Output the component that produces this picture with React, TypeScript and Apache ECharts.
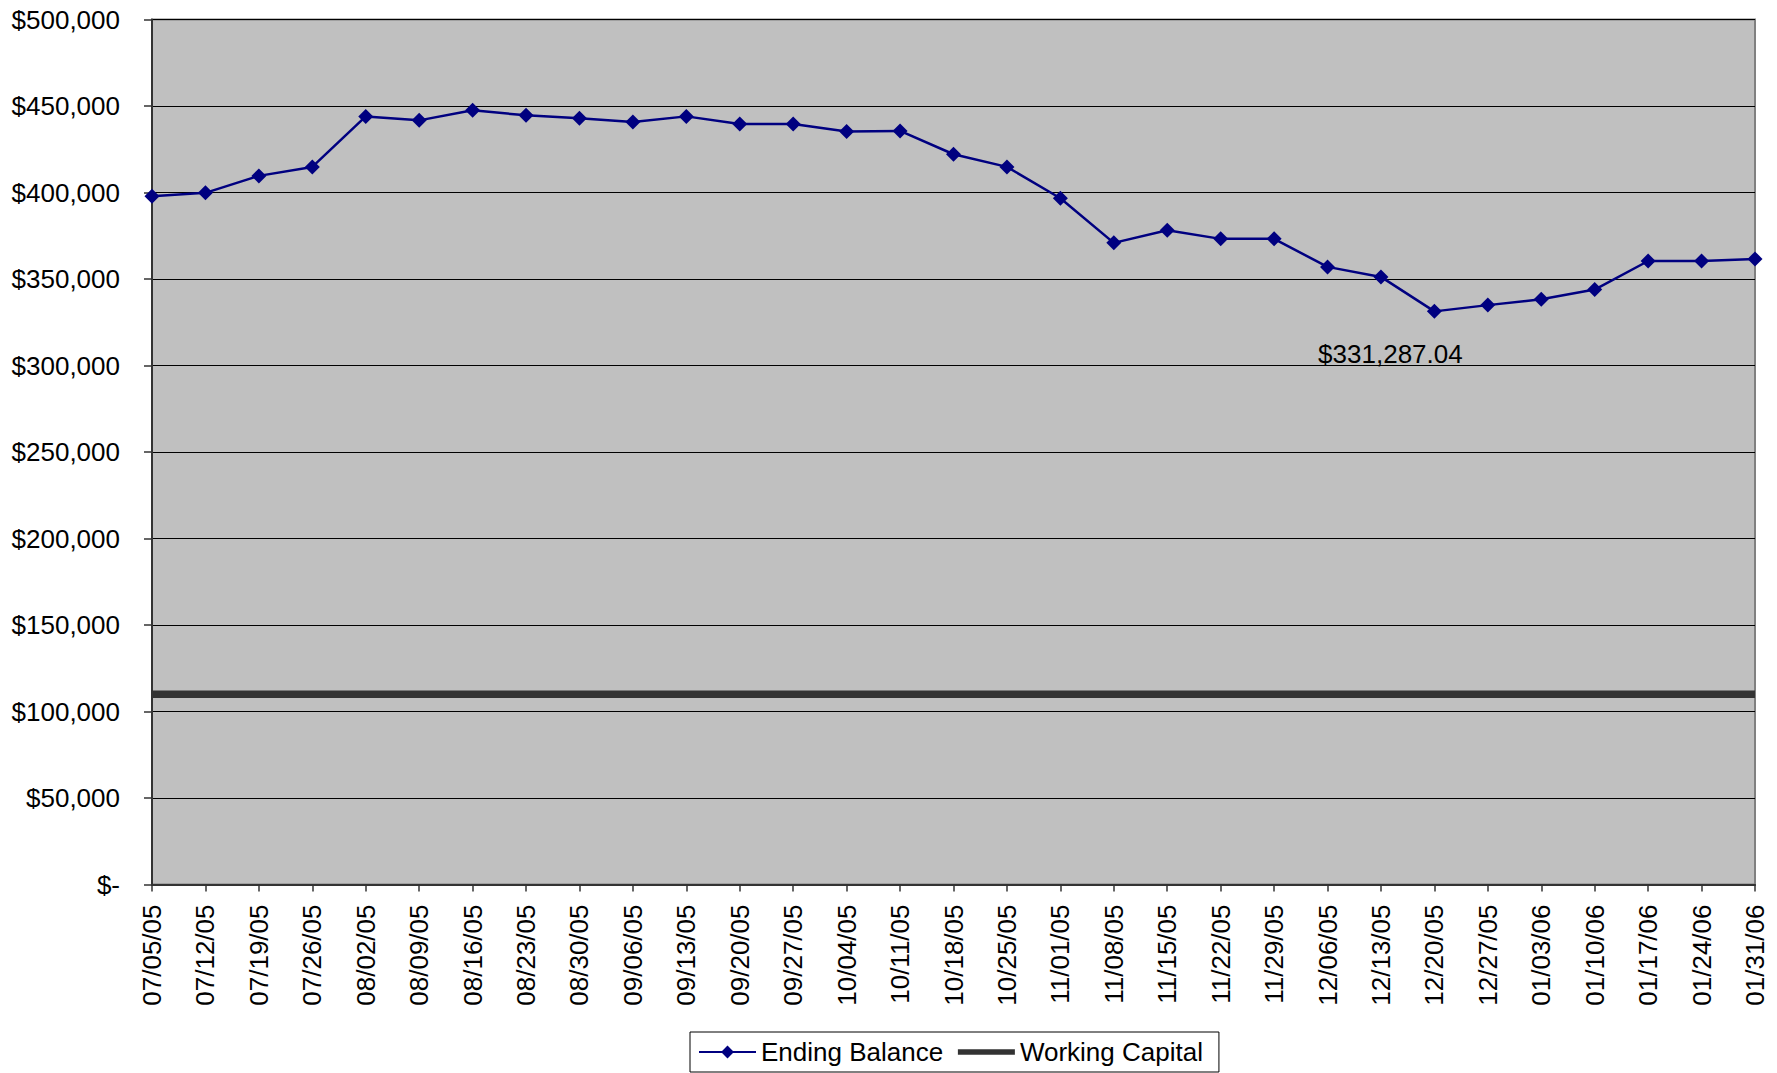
import React, { useEffect, useRef } from "react";
import * as echarts from "echarts";

const categories = [
  "07/05/05", "07/12/05", "07/19/05", "07/26/05", "08/02/05", "08/09/05", "08/16/05", "08/23/05",
  "08/30/05", "09/06/05", "09/13/05", "09/20/05", "09/27/05", "10/04/05", "10/11/05", "10/18/05",
  "10/25/05", "11/01/05", "11/08/05", "11/15/05", "11/22/05", "11/29/05", "12/06/05", "12/13/05",
  "12/20/05", "12/27/05", "01/03/06", "01/10/06", "01/17/06", "01/24/06", "01/31/06",
];

const endingBalance = [
  397900, 399800, 409600, 414800, 444000, 441700, 447500, 444600,
  442900, 440800, 444000, 439600, 439600, 435200, 435600, 422100,
  414800, 396700, 370900, 378200, 373200, 373200, 357000, 351200,
  331287.04, 334900, 338300, 343900, 360400, 360400, 361600,
];

const workingCapital = [
  110000, 110000, 110000, 110000, 110000, 110000, 110000, 110000,
  110000, 110000, 110000, 110000, 110000, 110000, 110000, 110000,
  110000, 110000, 110000, 110000, 110000, 110000, 110000, 110000,
  110000, 110000, 110000, 110000, 110000, 110000, 110000,
];

const annotatedIndex = 24;
const annotationText = "$331,287.04";

const yMin = 0;
const yMax = 500000;
const yInterval = 50000;

const FONT = "'Liberation Sans', Arial, sans-serif";

function formatMoney(v: number): string {
  if (v === 0) return "$-";
  return "$" + v.toLocaleString("en-US");
}

export default function App() {
  const ref = useRef<HTMLDivElement>(null);

  useEffect(() => {
    if (!ref.current) return;
    const chart = echarts.init(ref.current, null, { renderer: "svg" });

    const balanceData = endingBalance.map((v, i) =>
      i === annotatedIndex
        ? {
            value: v,
            label: {
              show: true,
              formatter: annotationText,
              position: "inside",
              offset: [-44, 43],
              fontSize: 26,
              color: "#000",
              fontFamily: FONT,
            },
          }
        : v
    );

    chart.setOption({
      animation: false,
      backgroundColor: "#ffffff",
      textStyle: { fontFamily: FONT, color: "#000" },
      grid: {
        left: 152,
        top: 19.5,
        right: 22,
        bottom: 188.5,
        show: true,
        backgroundColor: "#c0c0c0",
        borderColor: "#808080",
        borderWidth: 2,
      },
      legend: {
        left: 690,
        top: 1032,
        padding: [7, 16, 7, 8],
        itemWidth: 57,
        itemHeight: 16,
        itemGap: 12,
        borderColor: "#000",
        borderWidth: 1,
        backgroundColor: "#fff",
        textStyle: { fontSize: 26, color: "#000", fontFamily: FONT },
        data: [
          { name: "Ending Balance" },
          { name: "Working Capital", lineStyle: { width: 5.5 }, itemStyle: { opacity: 0 } },
        ],
      },
      xAxis: {
        type: "category",
        data: categories,
        boundaryGap: false,
        axisLine: { show: true, lineStyle: { color: "#333", width: 2 } },
        axisTick: { show: true, inside: false, length: 7, lineStyle: { color: "#333", width: 1.5 } },
        axisLabel: {
          rotate: 90,
          interval: 0,
          margin: 20,
          fontSize: 26,
          color: "#000",
          fontFamily: FONT,
        },
        splitLine: { show: false },
      },
      yAxis: {
        type: "value",
        min: yMin,
        max: yMax,
        interval: yInterval,
        axisLine: { show: true, lineStyle: { color: "#333", width: 2 } },
        axisTick: { show: true, inside: false, length: 8, lineStyle: { color: "#333", width: 1.5 } },
        axisLabel: {
          margin: 32,
          fontSize: 26,
          color: "#000",
          fontFamily: FONT,
          formatter: (v: number) => formatMoney(v),
        },
        splitLine: { show: true, lineStyle: { color: "#000", width: 1 } },
      },
      series: [
        {
          name: "Ending Balance",
          type: "line",
          data: balanceData,
          symbol: "diamond",
          symbolSize: 15,
          color: "#000080",
          itemStyle: { color: "#000080" },
          lineStyle: { color: "#000080", width: 2.5 },
          z: 3,
        },
        {
          name: "Working Capital",
          type: "line",
          data: workingCapital,
          symbol: "none",
          color: "#333333",
          lineStyle: { color: "#333333", width: 7.5 },
          z: 2,
        },
      ],
    });

    return () => {
      chart.dispose();
    };
  }, []);

  return (
    <div
      ref={ref}
      style={{ position: "absolute", left: 0, top: 0, width: 1777, height: 1073 }}
    />
  );
}
